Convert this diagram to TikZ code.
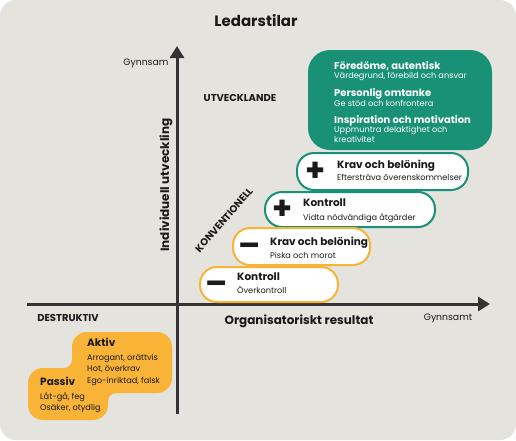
\documentclass[tikz,border=0pt]{standalone}
\usepackage{fontspec}
\setmainfont{Poppins}
\usetikzlibrary{arrows.meta}
\definecolor{bggrey}{RGB}{228,227,221}
\definecolor{leadgreen}{RGB}{24,145,118}
\definecolor{destorange}{RGB}{249,179,55}
\definecolor{axisgrey}{RGB}{51,51,51}
\definecolor{inkblack}{RGB}{26,26,26}
\tikzset{
  % pill boxes
  pill/.style={draw, line width=2pt, fill=white, rounded corners=17pt,
    inner sep=0pt},
  pillgreen/.style={pill, draw=leadgreen},
  pillorange/.style={pill, draw=destorange},
  % texts
  signtxt/.style={font=\fontsize{32}{32}\selectfont\bfseries, text=inkblack, inner sep=0pt},
  headtxt/.style={anchor=base west, inner sep=0pt, text height=7pt, text depth=1pt,
    font=\fontsize{10.5}{12}\selectfont\bfseries, text=inkblack},
  subtxt/.style={anchor=base west, inner sep=0pt, text height=6pt, text depth=1pt,
    font=\fontsize{8.2}{10}\selectfont, text=inkblack},
  greenhead/.style={headtxt, font=\fontsize{10}{12}\selectfont\bfseries, text=white},
  greensub/.style={subtxt, text=white},
  axistxt/.style={font=\fontsize{12}{14}\selectfont\bfseries, text=inkblack},
  zonetxt/.style={font=\fontsize{10}{12}\selectfont\bfseries, text=inkblack},
  smalltxt/.style={font=\fontsize{9.3}{11}\selectfont, text=inkblack},
  axis/.style={-{Triangle[length=12pt,width=14pt]}, line width=3pt, axisgrey},
}
\begin{document}
\begin{tikzpicture}[x=1pt, y=-1pt]
    \useasboundingbox (0,0) rectangle (516,440);
    \fill[bggrey, rounded corners=16pt] (0,0) rectangle (516,440);

    % Title
    \node[font=\fontsize{15}{17}\selectfont\bfseries, text=inkblack] (title) at (256,21) {Ledarstilar};

    % Destructive blob
    \fill[destorange, rounded corners=15pt] (72,332) rectangle (172,393);
    \fill[destorange, rounded corners=15pt] (28,368) rectangle (108,420);
    \fill[destorange] (72,368) -- (64,368) .. controls (68.4,368) and (72,364.4) .. (72,360) -- cycle;
    \fill[destorange] (108,393) -- (116,393) .. controls (111.6,393) and (108,396.6) .. (108,401) -- cycle;

    % Axes
    \coordinate (origin) at (177,304);
    \coordinate (ytop) at (177,46);
    \coordinate (ybot) at (177,414);
    \coordinate (xleft) at (27,304);
    \coordinate (xright) at (490,304);
    \draw[axis] (ybot) -- (ytop);
    \draw[axis] (xleft) -- (xright);

    \node[smalltxt, anchor=east] (gyv) at (172,63) {Gynnsam};
    \node[smalltxt] (gyh) at (448,318) {Gynnsamt};
    \node[axistxt, rotate=90] (ylab) at (166,185) {Individuell utveckling};
    \node[axistxt] (xlab) at (299,321) {Organisatoriskt resultat};

    % Zones
    \node[zonetxt] (utv) at (240,98) {UTVECKLANDE};
    \node[zonetxt, rotate=49] (konv) at (224,220) {KONVENTIONELL};
    \node[zonetxt] (destr) at (68,318) {DESTRUKTIV};

    % Developing box
    \node[fill=leadgreen, rounded corners=22pt, minimum width=184pt, minimum height=100pt, inner sep=0pt] (utvbox) at (400,100) {};
    \node[greenhead] (t1) at (334,69) {Föredöme, autentisk};
    \node[greensub] (s1) at (334,78) {Värdegrund, förebild och ansvar};
    \node[greenhead] (t2) at (334,96) {Personlig omtanke};
    \node[greensub] (s2) at (334,106) {Ge stöd och konfrontera};
    \node[greenhead] (t3) at (334,123) {Inspiration och motivation};
    \node[greensub] (s3) at (334,132) {Uppmuntra delaktighet och};
    \node[greensub] (s4) at (334,142) {kreativitet};

    % Conventional boxes
    \node[pillgreen, minimum width=171pt, minimum height=37pt] (kb1) at (382.5,171.5) {};
    \node[signtxt] (kb1s) at (316,172) {+};
    \node[headtxt] (kb1t) at (337,168.5) {Krav och belöning};
    \node[subtxt] (kb1u) at (337,180) {Eftersträva överenskommelser};

    \node[pillgreen, minimum width=170pt, minimum height=35pt] (ko1) at (350,209.5) {};
    \node[signtxt] (ko1s) at (283,210) {+};
    \node[headtxt] (ko1t) at (303,206.5) {Kontroll};
    \node[subtxt] (ko1u) at (303,220) {Vidta nödvändiga åtgärder};

    \node[pillorange, minimum width=137pt, minimum height=37pt] (kb2) at (301.5,246.5) {};
    \node[signtxt] (kb2s) at (250,250) {–};
    \node[headtxt] (kb2t) at (270,245.5) {Krav och belöning};
    \node[subtxt] (kb2u) at (270,258) {Piska och morot};

    \node[pillorange, minimum width=138pt, minimum height=35pt] (ko2) at (269,284.5) {};
    \node[signtxt] (ko2s) at (217,288) {–};
    \node[headtxt] (ko2t) at (237,280.5) {Kontroll};
    \node[subtxt] (ko2u) at (237,293) {Överkontroll};

    % Destructive texts
    \node[headtxt] (akt) at (87,346.5) {Aktiv};
    \node[subtxt] (akt1) at (87,360) {Arrogant, orättvis};
    \node[subtxt] (akt2) at (87,371) {Hot, överkrav};
    \node[subtxt] (akt3) at (87,383) {Ego-inriktad, falsk};
    \node[headtxt] (pas) at (40,385.5) {Passiv};
    \node[subtxt] (pas1) at (40,399) {Låt-gå, feg};
    \node[subtxt] (pas2) at (40,410) {Osäker, otydlig};
\end{tikzpicture}
\end{document}
